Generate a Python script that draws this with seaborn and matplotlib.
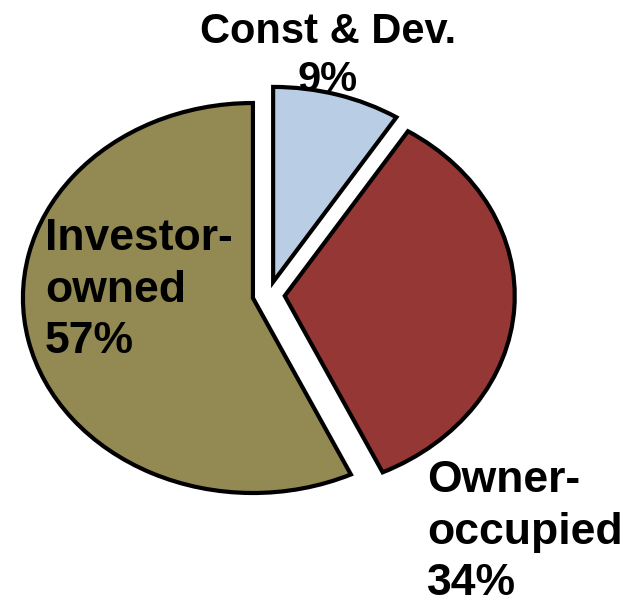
import matplotlib
matplotlib.use("Agg")
import matplotlib.pyplot as plt
import seaborn as sns

# valeurs
segments = ["Const & Dev.", "Owner-\noccupied", "Investor-\nowned"]
parts = [9, 34, 57]
couleurs = ["#B9CDE5", "#953735", "#938953"]

sns.set_theme(style="white")
plt.rcParams['font.family'] = ['Liberation Sans', 'DejaVu Sans']
plt.rcParams['text.color'] = 'black'

fig = plt.figure(figsize=(6.3, 6), dpi=100)
ax = fig.add_axes([0, 0, 1, 1])

ax.pie(parts, colors=couleurs, startangle=90, counterclock=False,
       explode=[0.07, 0.07, 0.07],
       wedgeprops=dict(edgecolor="black", linewidth=3, zorder=3))

# ellipse: l'axe n'est pas a l'echelle egale
ax.set_aspect("auto")
ax.set_xlim(-1.168, 1.571)
ax.set_ylim(-1.564, 1.513)
ax.axis("off")

# etiquettes
ax.text(328 / 630, 1 - 12 / 600, f"{segments[0]}\n{parts[0]}%", transform=ax.transAxes,
        ha="center", va="top", fontsize=30, fontweight="bold", linespacing=1.27,
        multialignment="center", color="black", zorder=1)
ax.text(427 / 630, 1 - 460 / 600, f"{segments[1]}\n{parts[1]}%", transform=ax.transAxes,
        ha="left", va="top", fontsize=32, fontweight="bold", linespacing=1.33,
        color="black", zorder=5)
ax.text(45 / 630, 1 - 218 / 600, f"{segments[2]}\n{parts[2]}%", transform=ax.transAxes,
        ha="left", va="top", fontsize=32, fontweight="bold", linespacing=1.33,
        color="black", zorder=5)

plt.savefig("out.png", dpi=100)
